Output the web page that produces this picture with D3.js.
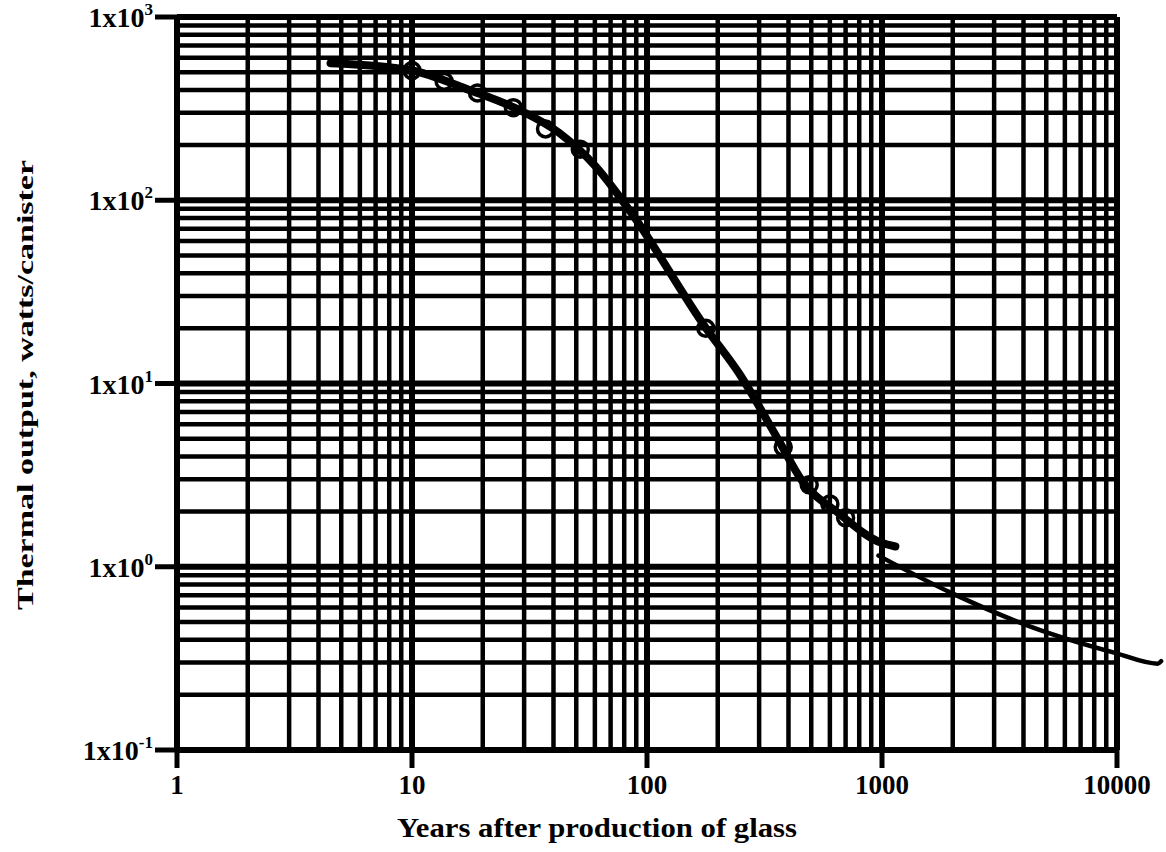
<!DOCTYPE html>
<html lang="en">
<head>
<meta charset="utf-8">
<script src="https://d3js.org/d3.v7.min.js"></script>
<style>
  body { margin: 0; background: #fff; }
  text { font-family: "Liberation Serif", "Times New Roman", serif; font-weight: bold; fill: #000; }
</style>
</head>
<body>
<div id="chart"></div>
<script>
// values
const curveYears = [4.5, 9.8, 17.5, 28.6, 42.3, 60.7, 84, 178, 246, 363, 455, 653, 995, 1140];
const curveWatts = [560, 514, 400, 311, 233, 152, 88.5, 20.1, 11.4, 4.9, 2.97, 1.96, 1.35, 1.29];

const markYears = [10, 13.7, 19, 27, 37, 52, 178, 380, 490, 600, 700];
const markWatts = [510, 445, 385, 320, 245, 190, 20, 4.5, 2.8, 2.2, 1.85];

const tailYears = [966, 1970, 4310, 9800, 14900, 15400];
const tailWatts = [1.15, 0.72, 0.47, 0.339, 0.296, 0.305];

const xTicks = [1, 10, 100, 1000, 10000];
const xTickLabels = ["1", "10", "100", "1000", "10000"];
const yTicks = [1000, 100, 10, 1, 0.1];
const yTickExp = ["3", "2", "1", "0", "-1"];

const margin = {top: 17, right: 49, bottom: 102, left: 177},
    width = 1166 - margin.left - margin.right,
    height = 852 - margin.top - margin.bottom;

const svg = d3.select("#chart")
  .append("svg")
    .attr("width", 1166)
    .attr("height", 852)
  .append("g")
    .attr("transform", `translate(${margin.left},${margin.top})`);

const x = d3.scaleLog().domain([1, 10000]).range([0, width]);
const y = d3.scaleLog().domain([0.1, 1000]).range([height, 0]);

// grid lines: 1..9 in each decade
const xGrid = [];
for (let d = 1; d < 10000; d *= 10) for (let k = 1; k < 10; k++) xGrid.push(d * k);
xGrid.push(10000);
const yGrid = [];
for (let d = 0.1; d < 999; d *= 10) for (let k = 1; k < 10; k++) yGrid.push(+(d * k).toPrecision(3));
yGrid.push(1000);

svg.append("g")
  .selectAll("line")
  .data(yGrid)
  .join("line")
    .attr("x1", 0)
    .attr("x2", width)
    .attr("y1", d => y(d))
    .attr("y2", d => y(d))
    .attr("stroke", "#000")
    .attr("stroke-width", d => yTicks.includes(d) ? 6 : 4.5);

svg.append("g")
  .selectAll("line")
  .data(xGrid)
  .join("line")
    .attr("x1", d => x(d))
    .attr("x2", d => x(d))
    .attr("y1", 0)
    .attr("y2", height)
    .attr("stroke", "#000")
    .attr("stroke-width", d => xTicks.includes(d) ? 6 : 4.5);

// outer ticks
svg.append("g")
  .selectAll("line")
  .data(yTicks)
  .join("line")
    .attr("x1", -22)
    .attr("x2", 0)
    .attr("y1", d => y(d))
    .attr("y2", d => y(d))
    .attr("stroke", "#000")
    .attr("stroke-width", 5);

svg.append("g")
  .selectAll("line")
  .data(xTicks)
  .join("line")
    .attr("x1", d => x(d))
    .attr("x2", d => x(d))
    .attr("y1", height)
    .attr("y2", height + 18)
    .attr("stroke", "#000")
    .attr("stroke-width", 5);

// y tick labels 1x10^n
const yl = svg.append("g")
  .selectAll("text")
  .data(yTicks)
  .join("text")
    .attr("x", -24)
    .attr("y", d => y(d) + 10)
    .attr("text-anchor", "end")
    .style("font-size", "28px");
yl.append("tspan").text("1x10");
yl.append("tspan")
    .attr("dy", -12)
    .style("font-size", "17px")
    .text((d, i) => yTickExp[i]);

// x tick labels
svg.append("g")
  .selectAll("text")
  .data(xTicks)
  .join("text")
    .attr("x", d => x(d))
    .attr("y", height + 44)
    .attr("text-anchor", "middle")
    .style("font-size", "27px")
    .text((d, i) => xTickLabels[i]);

// axis titles
svg.append("text")
  .attr("x", 420)
  .attr("y", height + 87)
  .attr("text-anchor", "middle")
  .attr("textLength", 400)
  .attr("lengthAdjust", "spacingAndGlyphs")
  .style("font-size", "27px")
  .text("Years after production of glass");

svg.append("text")
  .attr("transform", `translate(${-144},${368}) rotate(-90)`)
  .attr("text-anchor", "middle")
  .attr("textLength", 450)
  .attr("lengthAdjust", "spacingAndGlyphs")
  .style("font-size", "24px")
  .text("Thermal output, watts/canister");

// curve
const line = d3.line()
  .curve(d3.curveMonotoneX)
  .x(d => x(d[0]))
  .y(d => y(d[1]));

svg.append("path")
  .datum(curveYears.map((v, i) => [v, curveWatts[i]]))
  .attr("fill", "none")
  .attr("stroke", "#000")
  .attr("stroke-width", 8)
  .attr("stroke-linecap", "round")
  .attr("d", line);

svg.append("path")
  .datum(tailYears.map((v, i) => [v, tailWatts[i]]))
  .attr("fill", "none")
  .attr("stroke", "#000")
  .attr("stroke-width", 4.5)
  .attr("stroke-linecap", "round")
  .attr("d", line);

svg.append("g")
  .selectAll("circle")
  .data(markYears.map((v, i) => [v, markWatts[i]]))
  .join("circle")
    .attr("cx", d => x(d[0]))
    .attr("cy", d => y(d[1]))
    .attr("r", 8)
    .attr("fill", "none")
    .attr("stroke", "#000")
    .attr("stroke-width", 3.5);
</script>
</body>
</html>
